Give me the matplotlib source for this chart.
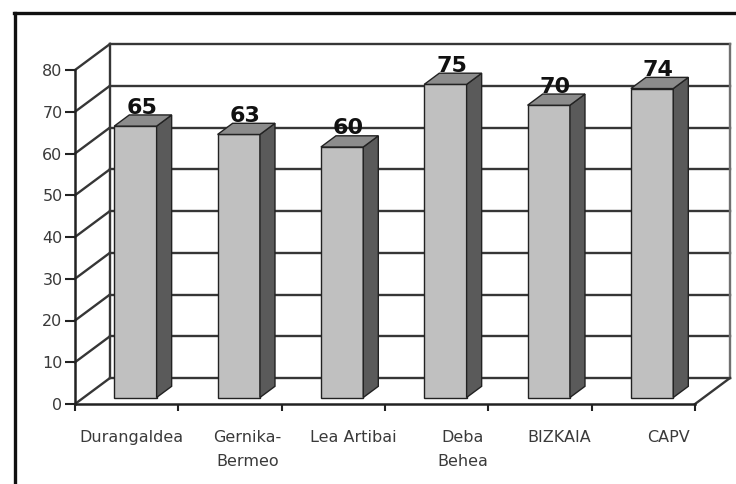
import matplotlib
matplotlib.use("Agg")
import matplotlib.pyplot as plt
from matplotlib.patches import Polygon
from matplotlib.lines import Line2D

categories = ["Durangaldea", "Gernika-\nBermeo", "Lea Artibai", "Deba\nBehea", "BIZKAIA", "CAPV"]
values = [65, 63, 60, 75, 70, 74]
yticks = [0, 10, 20, 30, 40, 50, 60, 70, 80]

W, H = 736, 484
fig = plt.figure(figsize=(W / 100, H / 100), dpi=100)
fig.patch.set_facecolor("white")

# front plot box in pixels
L, R, B, T = 75, 695, 404, 70
ax = fig.add_axes([L / W, (H - B) / H, (R - L) / W, (B - T) / H])
ax.set_xlim(0, len(categories))
ax.set_ylim(0, 80)
ax.set_facecolor("none")

# depth offsets in data units
DX = 35 / ((R - L) / len(categories))
DY = 26 / ((B - T) / 80)

grid_c = "#363636"
n = len(categories)

# back wall and side wall gridlines
for v in yticks:
    ax.plot([DX, n + DX], [v + DY, v + DY], color=grid_c, lw=1.7, clip_on=False, zorder=1)
    ax.plot([0, DX], [v, v + DY], color=grid_c, lw=1.7, clip_on=False, zorder=1)
ax.plot([DX, DX], [DY, 80 + DY], color=grid_c, lw=1.7, clip_on=False, zorder=1)
ax.plot([n + DX, n + DX], [DY, 80 + DY], color="#707070", lw=1.7, clip_on=False, zorder=1)
# floor right edge
ax.plot([n, n + DX], [0, DY], color=grid_c, lw=1.7, clip_on=False, zorder=1)

# bars
hw = 0.205
z0, z1 = 0.25, 0.68
for i, v in enumerate(values):
    x0 = i + 0.5 - hw
    x1 = i + 0.5 + hw
    a0x, a0y = z0 * DX, z0 * DY
    a1x, a1y = z1 * DX, z1 * DY
    front = [(x0 + a0x, a0y), (x1 + a0x, a0y), (x1 + a0x, v + a0y), (x0 + a0x, v + a0y)]
    side = [(x1 + a0x, a0y), (x1 + a1x, a1y), (x1 + a1x, v + a1y), (x1 + a0x, v + a0y)]
    top = [(x0 + a0x, v + a0y), (x1 + a0x, v + a0y), (x1 + a1x, v + a1y), (x0 + a1x, v + a1y)]
    for poly, fc in ((front, "#c0c0c0"), (side, "#5a5a5a"), (top, "#8c8c8c")):
        ax.add_patch(Polygon(poly, closed=True, facecolor=fc, edgecolor="#222222",
                             lw=1.0, clip_on=False, zorder=3))
    ax.annotate(str(v), (i + 0.5 + a0x + 0.06, v + a1y), xytext=(0, 1.0),
                textcoords="offset points", ha="center", va="baseline",
                fontsize=16, fontweight="bold", family="DejaVu Sans",
                color="#111111", zorder=5, annotation_clip=False)

# axes styling
for s in ("top", "right"):
    ax.spines[s].set_visible(False)
for s in ("left", "bottom"):
    ax.spines[s].set_color("#222222")
    ax.spines[s].set_linewidth(1.8)
    ax.spines[s].set_zorder(4)
ax.set_yticks(yticks)
ax.set_yticklabels([str(t) for t in yticks])
ax.set_xticks(range(n + 1))
ax.set_xticklabels([])
ax.tick_params(axis="y", direction="out", length=7, width=1.5, color="#222222",
               labelsize=11.5, labelcolor="#3a3a3a", pad=2)
ax.tick_params(axis="x", direction="out", length=5, width=1.5, color="#222222")

# category labels
offs = [0.05, 0.17, 0.19, 0.25, 0.19, 0.24]
for i, (c, o) in enumerate(zip(categories, offs)):
    ax.annotate(c, (i + 0.5 + o, 0), xytext=(0, -19), textcoords="offset points",
                ha="center", va="top", fontsize=11.5, color="#3a3a3a",
                linespacing=1.7, annotation_clip=False)

# outer frame (cropped on right and bottom)
fig.add_artist(Line2D([15 / W, 15 / W], [0, 1 - 13 / H], color="#111111", lw=2.4,
                      transform=fig.transFigure))
fig.add_artist(Line2D([14 / W, 1], [1 - 13 / H, 1 - 13 / H], color="#111111", lw=2.4,
                      transform=fig.transFigure))

fig.savefig("out.png", dpi=100, facecolor="white")
